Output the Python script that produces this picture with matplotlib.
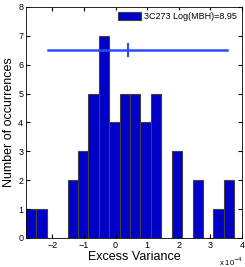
import numpy as np
import matplotlib
matplotlib.use("Agg")
import matplotlib.pyplot as plt

plt.rcParams['font.family'] = ['Liberation Sans', 'DejaVu Sans']

# histogram of excess variance (units of 1e-4)
counts = [1, 1, 0, 0, 2, 3, 5, 7, 4, 5, 5, 4, 5, 0, 3, 0, 2, 0, 1, 2]
bin_lo = -2.83
bin_hi = 3.75
edges = np.linspace(bin_lo, bin_hi, len(counts) + 1)

# mean and spread line
err_y = 6.5
err_left = -2.12
err_mid = 0.38
err_right = 3.52

label = '3C273 Log(MBH)=8.95'

fig = plt.figure(figsize=(2.45, 2.67), dpi=100)
ax = fig.add_axes([0.106, 0.109, 0.882, 0.865])

ax.bar(edges[:-1], counts, width=np.diff(edges), align='edge',
       color='#0000c8', edgecolor='#404040', linewidth=0.8, label=label)
ax.plot([err_left, err_right], [err_y, err_y], color='#2a4cff', lw=1.8)
ax.plot([err_mid, err_mid], [err_y - 0.2, err_y + 0.2], color='#2a4cff', lw=1.5)

ax.set_xlim(bin_lo, 4)
ax.set_ylim(0, 8)
ax.set_xticks(range(-2, 5))
ax.set_yticks(range(0, 9))
ax.tick_params(direction='in', top=True, right=True, labelsize=6.5, length=3, pad=2)
for s in ax.spines.values():
    s.set_linewidth(0.6)

ax.set_xlabel('Excess Variance', fontsize=9, labelpad=1)
ax.set_ylabel('Number of occurrences', fontsize=9, labelpad=2)
ax.text(1.005, -0.075, r'x 10$^{-4}$', transform=ax.transAxes, fontsize=5.5,
        ha='right', va='top')

leg = ax.legend(loc='upper right', fontsize=6.5, frameon=True, fancybox=False,
                handlelength=2.5, handleheight=1.0, borderpad=0.3,
                handletextpad=0.3, borderaxespad=0.3)
leg.get_frame().set_edgecolor('white')
leg.get_frame().set_linewidth(0.5)

fig.savefig('out.png', dpi=100)
